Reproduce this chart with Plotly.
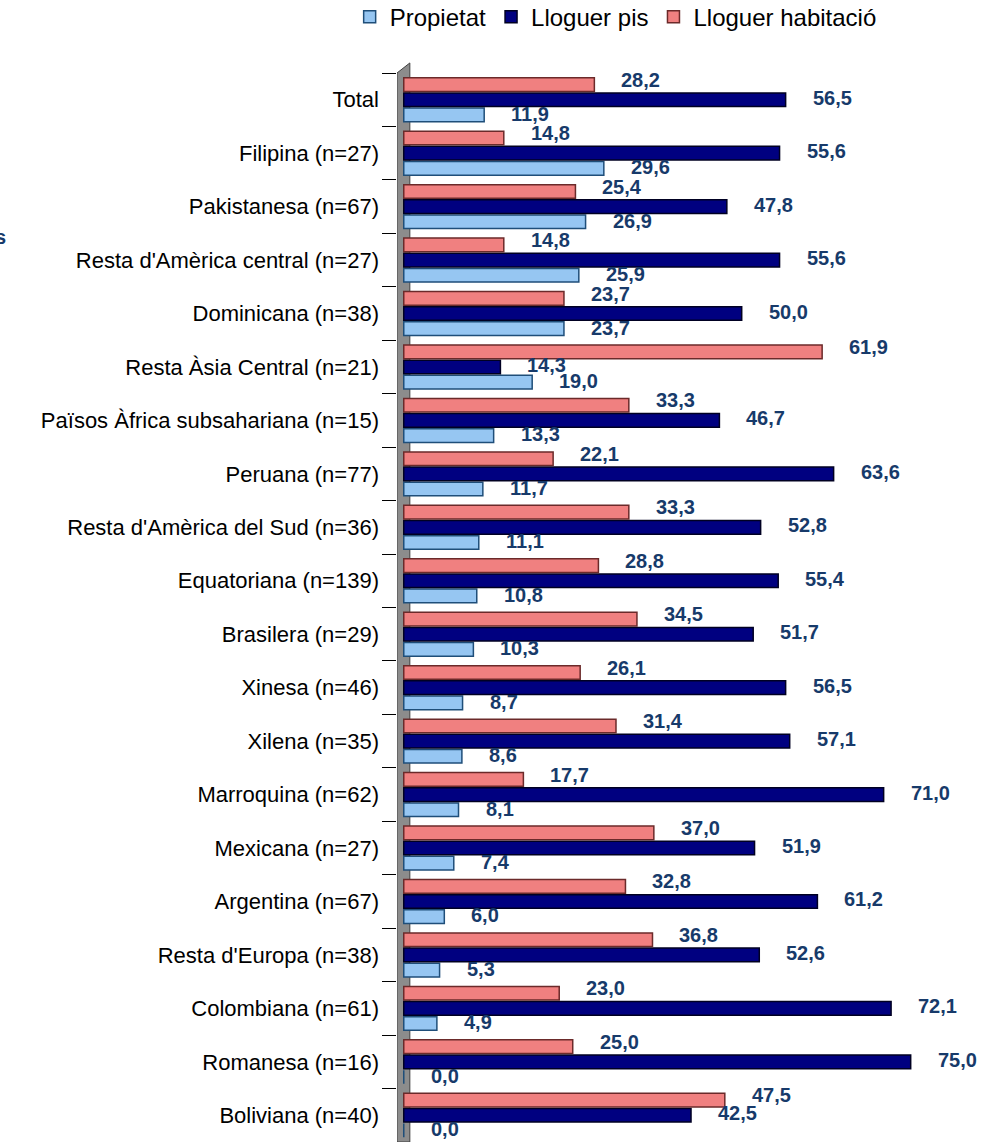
import plotly.graph_objects as go

# Data (top to bottom as in the chart)
categories = [
    "Total", "Filipina (n=27)", "Pakistanesa (n=67)",
    "Resta d'Amèrica central (n=27)", "Dominicana (n=38)",
    "Resta Àsia Central (n=21)", "Països Àfrica subsahariana (n=15)",
    "Peruana (n=77)", "Resta d'Amèrica del Sud (n=36)",
    "Equatoriana (n=139)", "Brasilera (n=29)", "Xinesa (n=46)",
    "Xilena (n=35)", "Marroquina (n=62)", "Mexicana (n=27)",
    "Argentina (n=67)", "Resta d'Europa (n=38)", "Colombiana (n=61)",
    "Romanesa (n=16)", "Boliviana (n=40)",
]
propietat = [11.9, 29.6, 26.9, 25.9, 23.7, 19.0, 13.3, 11.7, 11.1, 10.8,
             10.3, 8.7, 8.6, 8.1, 7.4, 6.0, 5.3, 4.9, 0.0, 0.0]
lloguer_pis = [56.5, 55.6, 47.8, 55.6, 50.0, 14.3, 46.7, 63.6, 52.8, 55.4,
               51.7, 56.5, 57.1, 71.0, 51.9, 61.2, 52.6, 72.1, 75.0, 42.5]
lloguer_hab = [28.2, 14.8, 25.4, 14.8, 23.7, 61.9, 33.3, 22.1, 33.3, 28.8,
               34.5, 26.1, 31.4, 17.7, 37.0, 32.8, 36.8, 23.0, 25.0, 47.5]

series = [
    ("Propietat", propietat, "#96C6F2", "#1F4E79", -14),
    ("Lloguer pis", lloguer_pis, "#000080", "#000022", 2),
    ("Lloguer habitació", lloguer_hab, "#F08080", "#6B2A2A", 20),
]
label_color = "#173A6A"

fig = go.Figure()

# wall behind the bars
fig.add_shape(type="path", xref="x", yref="paper",
              path="M -1,0 L -1,1 L 0.9,1.0094 L 0.9,0 Z",
              fillcolor="#8C8C8C", line=dict(color="#404040", width=1),
              layer="below")

for name, vals, fill, edge, yshift in series:
    fig.add_trace(go.Bar(
        y=categories, x=vals, name=name, orientation="h",
        marker=dict(color=fill, line=dict(color=edge, width=1.5)),
    ))
    for cat, v in zip(categories, vals):
        fig.add_annotation(
            x=v, y=cat, text=f"{v:.1f}".replace(".", ","),
            showarrow=False, xanchor="left", xshift=25, yshift=yshift,
            font=dict(family="Arial", size=20, color=label_color, weight="bold"),
        )

# clipped axis title remnant at far left
fig.add_annotation(x=-0.6934, y=0.847, xref="paper", yref="paper", text="s",
                   showarrow=False, xanchor="right", yanchor="middle",
                   font=dict(family="Arial", size=20, color=label_color, weight="bold"))

fig.update_layout(
    width=993, height=1142,
    margin=dict(l=397, r=35, t=73, b=0, autoexpand=False),
    plot_bgcolor="white", paper_bgcolor="white",
    barmode="group", bargap=0.15, bargroupgap=0.1,
    font=dict(family="Arial", color="black"),
    legend=dict(orientation="h", xref="container", yref="container",
                x=0.62, y=0.985, xanchor="center", yanchor="middle",
                font=dict(size=24), itemwidth=30),
    xaxis=dict(range=[-1, 82], visible=False, showgrid=False),
    yaxis=dict(type="category", categoryorder="array",
               categoryarray=categories[::-1],
               range=[-0.5, len(categories) - 0.5],
               ticks="outside", tickson="boundaries", ticklen=14,
               tickcolor="black", showgrid=False, showline=False,
               ticklabelstandoff=17,
               tickfont=dict(size=22, color="black")),
)

fig.write_html("out.html", config={"displayModeBar": False},
               post_script="document.body.style.margin='0';")
